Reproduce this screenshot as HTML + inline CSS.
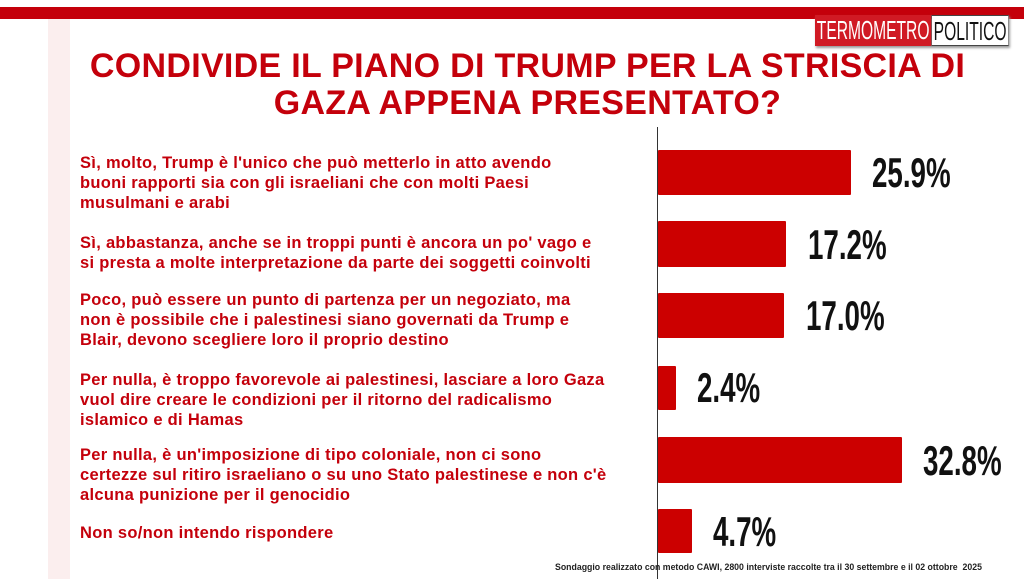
<!DOCTYPE html>
<html><head><meta charset="utf-8"><style>
body{margin:0;width:1024px;height:579px;background:#fff;position:relative;overflow:hidden;font-family:"Liberation Sans",sans-serif}
.band{position:absolute;left:0;top:7px;width:1024px;height:12px;background:#c4000b}
.deco{position:absolute;left:48px;top:19px;width:22px;height:560px;background:#fbeeee}
.logo{position:absolute;left:815px;top:15px;height:31px;display:flex;font-size:26px;line-height:31px;box-shadow:2px 2px 3px #999;transform:scaleX(0.6);transform-origin:left;white-space:nowrap}
.logo .a{background:#d01a24;color:#fff;padding:0 3px}
.logo .b{background:#fff;color:#111;padding:0 3px;border:1px solid #444}
.title{position:absolute;left:40px;width:975px;top:48px;text-align:center;color:#c4000b;font-weight:bold;font-size:34px;line-height:37px;letter-spacing:0.3px}
.axis{position:absolute;left:657px;top:127px;width:1px;height:452px;background:#333}
.bar{position:absolute;left:658px;background:#cc0000;border-radius:1px}
.pct{position:absolute;font-weight:bold;font-size:42px;color:#111;line-height:40px;transform:scaleX(0.66);transform-origin:left;white-space:nowrap}
.lab{position:absolute;left:80px;width:580px;color:#c4000b;font-weight:bold;font-size:16.5px;line-height:20px;letter-spacing:0.3px;white-space:nowrap}
.foot{position:absolute;left:555px;top:562px;font-size:9.5px;font-weight:bold;color:#222;white-space:nowrap;transform:scaleX(0.92);transform-origin:left}
</style></head><body>
<div class="band"></div>
<div class="deco"></div>
<div class="logo"><span class="a">TERMOMETRO</span><span class="b">POLITICO</span></div>
<div class="title">CONDIVIDE IL PIANO DI TRUMP PER LA STRISCIA DI<br>GAZA APPENA PRESENTATO?</div>
<div class="axis"></div>

<div class="lab" style="top:153px">Sì, molto, Trump è l'unico che può metterlo in atto avendo<br>buoni rapporti sia con gli israeliani che con molti Paesi<br>musulmani e arabi</div>
<div class="lab" style="top:233px">Sì, abbastanza, anche se in troppi punti è ancora un po' vago e<br>si presta a molte interpretazione da parte dei soggetti coinvolti</div>
<div class="lab" style="top:290px">Poco, può essere un punto di partenza per un negoziato, ma<br>non è possibile che i palestinesi siano governati da Trump e<br>Blair, devono scegliere loro il proprio destino</div>
<div class="lab" style="top:370px">Per nulla, è troppo favorevole ai palestinesi, lasciare a loro Gaza<br>vuol dire creare le condizioni per il ritorno del radicalismo<br>islamico e di Hamas</div>
<div class="lab" style="top:445px">Per nulla, è un'imposizione di tipo coloniale, non ci sono<br>certezze sul ritiro israeliano o su uno Stato palestinese e non c'è<br>alcuna punizione per il genocidio</div>
<div class="lab" style="top:523px">Non so/non intendo rispondere</div>

<div class="bar" style="top:150px;width:193px;height:45px"></div>
<div class="pct" style="left:872px;top:153px">25.9%</div>
<div class="bar" style="top:221px;width:128px;height:46px"></div>
<div class="pct" style="left:808px;top:225px">17.2%</div>
<div class="bar" style="top:293px;width:126px;height:45px"></div>
<div class="pct" style="left:806px;top:296px">17.0%</div>
<div class="bar" style="top:366px;width:18px;height:44px"></div>
<div class="pct" style="left:697px;top:368px">2.4%</div>
<div class="bar" style="top:437px;width:244px;height:46px"></div>
<div class="pct" style="left:923px;top:441px">32.8%</div>
<div class="bar" style="top:509px;width:34px;height:44px"></div>
<div class="pct" style="left:713px;top:512px">4.7%</div>

<div class="foot">Sondaggio realizzato con metodo CAWI, 2800 interviste raccolte tra il 30 settembre e il 02 ottobre&nbsp; 2025</div>
</body></html>
